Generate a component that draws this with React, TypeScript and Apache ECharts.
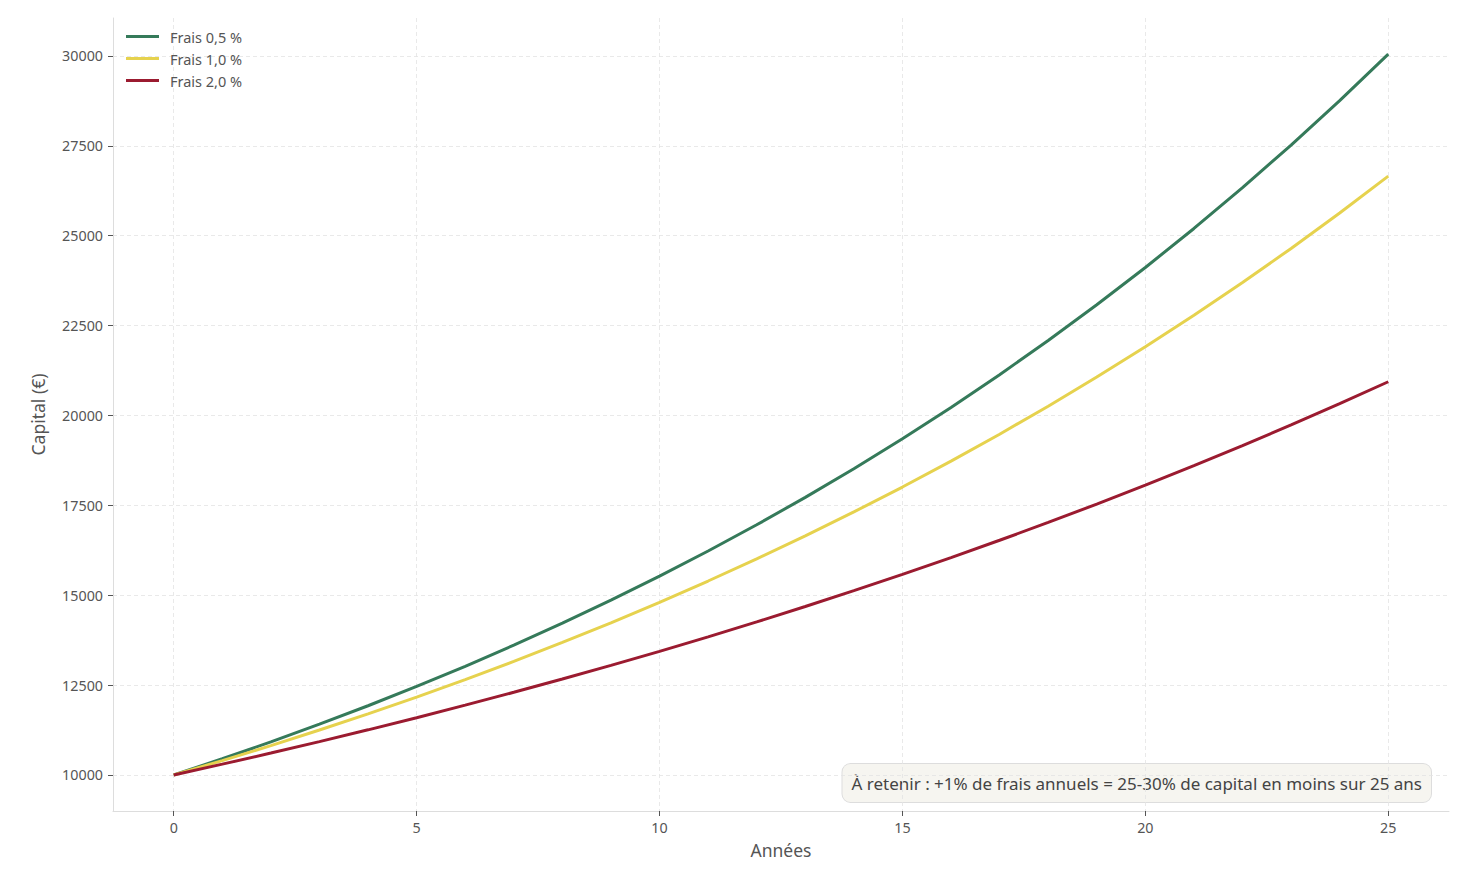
import React, { useRef, useEffect } from "react";
import * as echarts from "echarts";

const years = [0, 1, 2, 3, 4, 5, 6, 7, 8, 9, 10, 11, 12, 13, 14, 15, 16, 17, 18, 19, 20, 21, 22, 23, 24, 25];

const frais05 = [
  10000, 10450, 10920, 11412, 11925, 12462, 13023, 13609, 14221, 14861, 15530, 16229, 16959,
  17722, 18519, 19353, 20224, 21134, 22085, 23079, 24117, 25202, 26337, 27522, 28760, 30054,
];
const frais10 = [
  10000, 10400, 10816, 11249, 11699, 12167, 12653, 13159, 13686, 14233, 14802, 15395, 16010,
  16651, 17317, 18009, 18730, 19479, 20258, 21068, 21911, 22788, 23699, 24647, 25633, 26658,
];
const frais20 = [
  10000, 10300, 10609, 10927, 11255, 11593, 11941, 12299, 12668, 13048, 13439, 13842, 14258,
  14685, 15126, 15580, 16047, 16528, 17024, 17535, 18061, 18603, 19161, 19736, 20328, 20938,
];

const xTicks = [0, 5, 10, 15, 20, 25];
const yTicks = [10000, 12500, 15000, 17500, 20000, 22500, 25000, 27500, 30000];

const FONT = "'Noto Sans', 'DejaVu Sans', sans-serif";
const TEXT = "#555555";

function buildOption() {
  const pair = (vals: number[]) => years.map((y, i) => [y, vals[i]]);
  const axisCommon = {
    axisLine: { show: true, onZero: false, lineStyle: { color: "#dddddd", width: 1 } },
    axisTick: { show: true, length: 5, lineStyle: { color: "#555555", width: 1 } },
    splitLine: { show: true, lineStyle: { color: "#e3e3e3", type: [4, 3], width: 0.8 } },
  };
  return {
    animation: false,
    backgroundColor: "#ffffff",
    textStyle: { fontFamily: FONT },
    grid: { left: 113, right: 21, top: 18, bottom: 73, containLabel: false },
    legend: {
      left: 121,
      top: 24,
      orient: "vertical",
      itemWidth: 33,
      itemHeight: 3,
      itemGap: 7,
      icon: "rect",
      textStyle: { color: TEXT, fontSize: 14.5, fontFamily: FONT, padding: [0, 0, 0, 6] },
      data: ["Frais 0,5 %", "Frais 1,0 %", "Frais 2,0 %"],
    },
    xAxis: {
      type: "value",
      min: -1.25,
      max: 26.25,
      name: "Années",
      nameLocation: "middle",
      nameGap: 30,
      nameTextStyle: { color: TEXT, fontSize: 17.5, fontFamily: FONT },
      ...axisCommon,
      axisTick: { ...axisCommon.axisTick, customValues: xTicks },
      axisLabel: { color: TEXT, fontSize: 14.3, margin: 9, customValues: xTicks },
    },
    yAxis: {
      type: "value",
      min: 8997,
      max: 31057,
      name: "Capital (€)",
      nameLocation: "middle",
      nameGap: 66,
      nameRotate: 90,
      nameTextStyle: { color: TEXT, fontSize: 17.5, fontFamily: FONT },
      ...axisCommon,
      axisTick: { ...axisCommon.axisTick, customValues: yTicks },
      axisLabel: {
        color: TEXT,
        fontSize: 14.3,
        margin: 10,
        customValues: yTicks,
        formatter: (v: number) => String(v),
      },
    },
    series: [
      {
        name: "Frais 0,5 %",
        type: "line",
        data: pair(frais05),
        symbol: "none",
        lineStyle: { width: 3, color: "#357a5a" },
        itemStyle: { color: "#357a5a" },
      },
      {
        name: "Frais 1,0 %",
        type: "line",
        data: pair(frais10),
        symbol: "none",
        lineStyle: { width: 3, color: "#e6d24e" },
        itemStyle: { color: "#e6d24e" },
      },
      {
        name: "Frais 2,0 %",
        type: "line",
        data: pair(frais20),
        symbol: "none",
        lineStyle: { width: 3, color: "#9b1b30" },
        itemStyle: { color: "#9b1b30" },
      },
    ],
    graphic: [
      {
        type: "text",
        right: 38,
        bottom: 81,
        style: {
          text: "À retenir : +1% de frais annuels = 25-30% de capital en moins sur 25 ans",
          fill: "#444444",
          font: `17px ${FONT}`,
          backgroundColor: "#f6f5f0",
          borderColor: "#dddddd",
          borderWidth: 1,
          borderRadius: 8,
          padding: [11, 9, 10, 9],
        },
      },
    ],
  };
}

export default function App() {
  const chartRef = useRef<HTMLDivElement>(null);

  useEffect(() => {
    if (!chartRef.current) return;
    const chart = echarts.init(chartRef.current, undefined, { renderer: "svg" });
    // eslint-disable-next-line @typescript-eslint/no-explicit-any
    chart.setOption(buildOption() as any);
    return () => chart.dispose();
  }, []);

  return (
    <div
      ref={chartRef}
      style={{ position: "fixed", left: 0, top: 0, width: 1470, height: 884 }}
    />
  );
}
